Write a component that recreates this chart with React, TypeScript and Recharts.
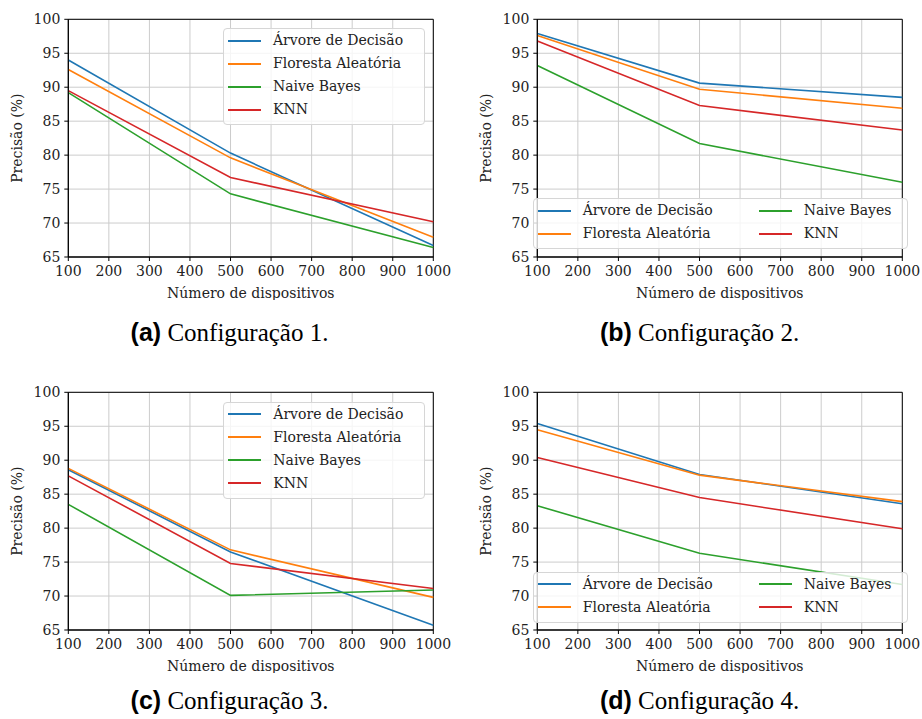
import React from 'react';
import { LineChart, Line, XAxis, YAxis, CartesianGrid, ReferenceArea, Legend, Label } from 'recharts';

// dispositivos medidos
const DEVICES = [100, 500, 1000];
const X_TICKS = [100, 200, 300, 400, 500, 600, 700, 800, 900, 1000];
const Y_TICKS = [65, 70, 75, 80, 85, 90, 95, 100];

const SERIES_NAMES = ['Árvore de Decisão', 'Floresta Aleatória', 'Naive Bayes', 'KNN'];
const COLORS = ['#1f77b4', '#ff7f0e', '#2ca02c', '#d62728'];

// Configuração 1
const cfg1Arvore = [94.0, 80.3, 66.7];
const cfg1Floresta = [92.6, 79.6, 67.9];
const cfg1Naive = [89.2, 74.3, 66.4];
const cfg1Knn = [89.5, 76.7, 70.2];

// Configuração 2
const cfg2Arvore = [97.9, 90.6, 88.5];
const cfg2Floresta = [97.6, 89.7, 86.9];
const cfg2Naive = [93.2, 81.7, 76.0];
const cfg2Knn = [96.8, 87.3, 83.7];

// Configuração 3
const cfg3Arvore = [88.6, 76.5, 65.7];
const cfg3Floresta = [88.8, 76.8, 69.8];
const cfg3Naive = [83.5, 70.1, 70.9];
const cfg3Knn = [87.7, 74.8, 71.1];

// Configuração 4
const cfg4Arvore = [95.4, 87.9, 83.6];
const cfg4Floresta = [94.5, 87.8, 83.9];
const cfg4Naive = [83.3, 76.3, 71.7];
const cfg4Knn = [90.4, 84.5, 79.9];

const SERIF = '"DejaVu Serif", serif';

const buildRows = (series: number[][]) =>
    DEVICES.map((x, i) => {
        const row: any = { x };
        series.forEach((s, k) => { row[`s${k}`] = s[i]; });
        return row;
    });

const LegendBox: React.FC<{ twoCols: boolean; width: number; height: number }> = ({ twoCols, width, height }) => {
    const item = (k: number) => (
        <div key={k} style={{ display: 'flex', alignItems: 'center', height: 23 }}>
            <div style={{ width: 33, height: 2, background: COLORS[k], marginLeft: 4 }} />
            <span style={{ marginLeft: 12, whiteSpace: 'nowrap' }}>{SERIES_NAMES[k]}</span>
        </div>
    );
    const cols = twoCols ? [[0, 1], [2, 3]] : [[0, 1, 2, 3]];
    return (
        <div style={{
            width, height, boxSizing: 'border-box', border: '1px solid #d6d6d6', borderRadius: 4,
            background: 'rgba(255,255,255,0.8)', display: 'flex', fontFamily: SERIF, fontSize: 14,
            color: '#222', lineHeight: '23px',
        }}>
            {cols.map((c, ci) => (
                <div key={ci} style={{ width: ci === 0 && twoCols ? 221 : undefined }}>
                    {c.map(item)}
                </div>
            ))}
        </div>
    );
};

type PanelProps = {
    left: number; top: number; series: number[][];
    twoCols: boolean; legendPos: { left: number; top: number; width: number; height: number };
};

const tickStyle = { fill: '#222', fontSize: 14, fontFamily: SERIF, style: { fontFamily: SERIF } };

const Panel: React.FC<PanelProps> = ({ left, top, series, twoCols, legendPos }) => {
    const data = buildRows(series);
    return (
        <div style={{ position: 'absolute', left, top }}>
            <LineChart width={455} height={300} data={data} margin={{ top: 19.3, right: 21.7, left: 0, bottom: 0 }}>
                <CartesianGrid stroke="#cccccc" strokeWidth={1} />
                <XAxis
                    dataKey="x" type="number" domain={[100, 1000]} ticks={X_TICKS} height={43}
                    stroke="#000" tickSize={4} tickMargin={5} interval={0}
                    tick={tickStyle}
                >
                    <Label
                        content={({ viewBox }: any) => (
                            <text x={viewBox.x + viewBox.width / 2} y={297.5} textAnchor="middle"
                                fontFamily={SERIF} fontSize={14} fill="#222">Número de dispositivos</text>
                        )}
                    />
                </XAxis>
                <YAxis
                    type="number" domain={[65, 100]} ticks={Y_TICKS} width={68.3}
                    stroke="#000" tickSize={4} tickMargin={4} interval={0}
                    tick={tickStyle}
                >
                    <Label
                        content={({ viewBox }: any) => {
                            const cx = 17.5;
                            const cy = viewBox.y + viewBox.height / 2;
                            return (
                                <text x={cx} y={cy} transform={`rotate(-90, ${cx}, ${cy})`} textAnchor="middle"
                                    dominantBaseline="central" fontFamily={SERIF} fontSize={14} fill="#222">
                                    Precisão (%)
                                </text>
                            );
                        }}
                    />
                </YAxis>
                {series.map((_, k) => (
                    <Line key={k} type="linear" dataKey={`s${k}`} name={SERIES_NAMES[k]} stroke={COLORS[k]}
                        strokeWidth={1.6} dot={false} isAnimationActive={false} />
                ))}
                <ReferenceArea x1={100} x2={1000} y1={65} y2={100} fill="none" stroke="#000" strokeWidth={1}
                    ifOverflow="visible" />
                <Legend
                    layout="horizontal" verticalAlign="middle" align="center"
                    wrapperStyle={{ left: legendPos.left, top: legendPos.top, width: legendPos.width, height: legendPos.height }}
                    content={() => <LegendBox twoCols={twoCols} width={legendPos.width} height={legendPos.height} />}
                />
            </LineChart>
        </div>
    );
};

const Caption: React.FC<{ cx: number; baseline: number; letter: string; n: number }> = ({ cx, baseline, letter, n }) => (
    <div style={{
        position: 'absolute', left: cx - 150, width: 300, top: baseline - 21, textAlign: 'center',
        fontSize: 25, lineHeight: '25px', color: '#000', whiteSpace: 'nowrap',
    }}>
        <span style={{ fontFamily: '"Liberation Sans", Arial, sans-serif', fontWeight: 'bold' }}>({letter})</span>
        <span style={{ fontFamily: '"Liberation Serif", "Times New Roman", serif' }}> Configuração {n}.</span>
    </div>
);

export default function App() {
    return (
        <div style={{ position: 'absolute', left: 0, top: 0, width: 922, height: 719, overflow: 'hidden', background: '#fff' }}>
            <Panel left={0} top={0} twoCols={false}
                series={[cfg1Arvore, cfg1Floresta, cfg1Naive, cfg1Knn]}
                legendPos={{ left: 223, top: 28, width: 202, height: 97 }} />
            <Panel left={469.4} top={0} twoCols={true}
                series={[cfg2Arvore, cfg2Floresta, cfg2Naive, cfg2Knn]}
                legendPos={{ left: 63.3, top: 198, width: 375, height: 51 }} />
            <Panel left={0} top={373.4} twoCols={false}
                series={[cfg3Arvore, cfg3Floresta, cfg3Naive, cfg3Knn]}
                legendPos={{ left: 223.3, top: 28.3, width: 202, height: 97 }} />
            <Panel left={469.4} top={373.4} twoCols={true}
                series={[cfg4Arvore, cfg4Floresta, cfg4Naive, cfg4Knn]}
                legendPos={{ left: 63.3, top: 198.3, width: 375, height: 51 }} />
            <Caption cx={229.5} baseline={340.7} letter="a" n={1} />
            <Caption cx={699.5} baseline={340.7} letter="b" n={2} />
            <Caption cx={229.5} baseline={709} letter="c" n={3} />
            <Caption cx={699.5} baseline={709} letter="d" n={4} />
        </div>
    );
}
